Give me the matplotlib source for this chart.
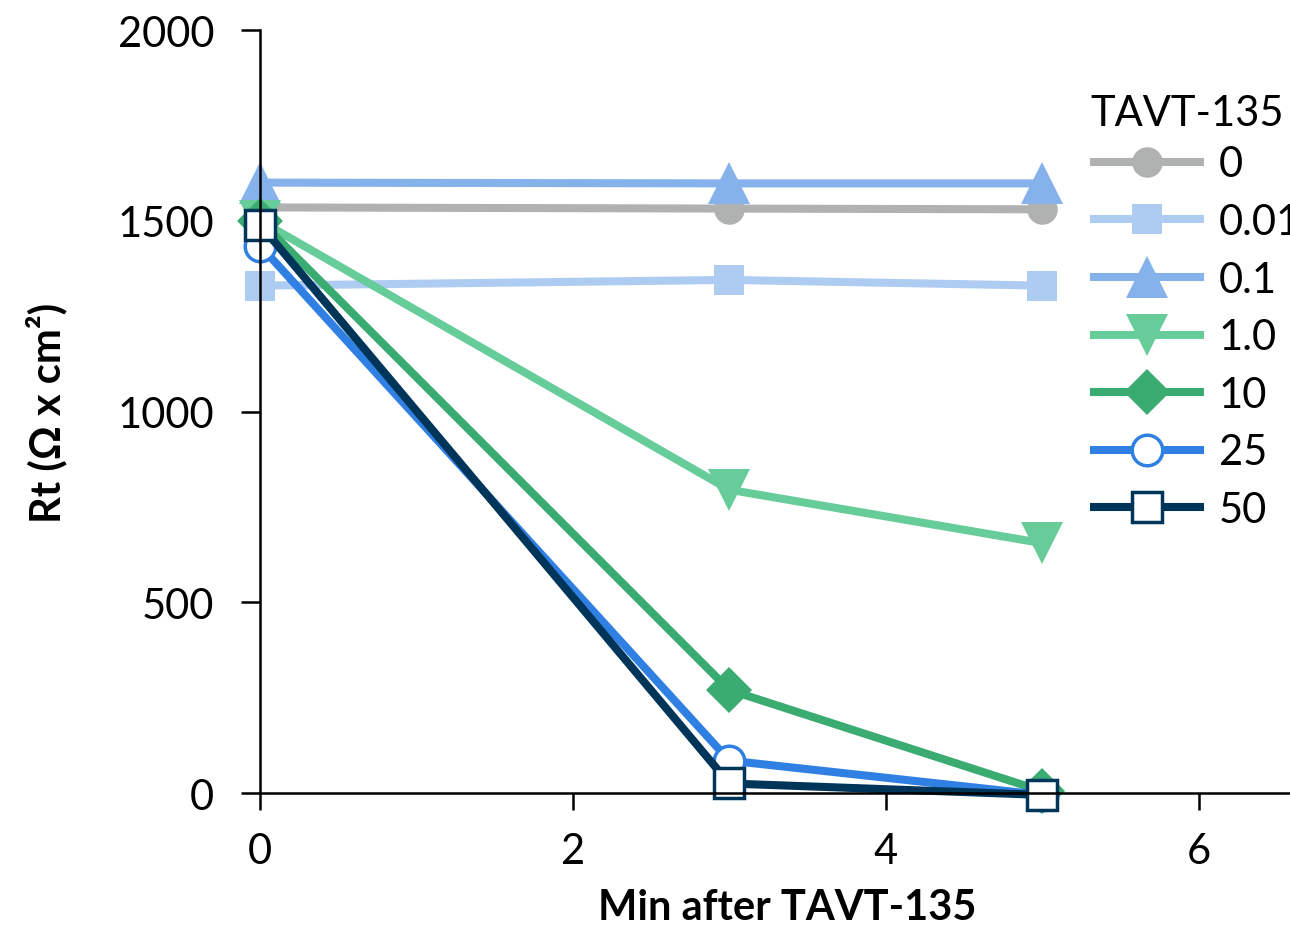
"""
Rt vs. minutes after TAVT-135 addition
"""
import matplotlib
matplotlib.use("Agg")
import matplotlib.pyplot as plt

plt.rcParams['font.family'] = ['Lato', 'DejaVu Sans']

# data
minutes = [0, 3, 5]
rt_0 = [1535, 1532, 1530]
rt_001 = [1330, 1345, 1330]
rt_01 = [1600, 1598, 1598]
rt_1 = [1500, 795, 655]
rt_10 = [1500, 270, 5]
rt_25 = [1435, 85, -5]
rt_50 = [1490, 25, -5]

labels = ['0', '0.01', '0.1', '1.0', '10', '25', '50']
x_ticks = [0, 2, 4, 6]
y_ticks = [0, 500, 1000, 1500, 2000]

# colour, marker, marker size, marker face
styles = [
    ('#B0B2B1', 'o', 22, None),
    ('#AECBF1', 's', 21, None),
    ('#86B2EC', '^', 30, None),
    ('#66CC99', 'v', 30, None),
    ('#3AAC72', 'D', 23, None),
    ('#2F80E2', 'o', 22, 'white'),
    ('#00355A', 's', 22, 'white'),
]
series = [rt_0, rt_001, rt_01, rt_1, rt_10, rt_25, rt_50]

fig = plt.figure(figsize=(12.9, 9.29), dpi=100)
ax = fig.add_axes([0.2016, 0.1453, 0.8488, 0.8213])

for vals, lab, (col, mk, ms, face) in zip(series, labels, styles):
    if face is None:
        ax.plot(minutes, vals, color=col, lw=5.8, marker=mk, ms=ms,
                mfc=col, mec=col, mew=0, label=lab, clip_on=False)
    else:
        ax.plot(minutes, vals, color=col, lw=5.8, marker=mk, ms=ms,
                mfc=face, mec=col, mew=2.5, label=lab, clip_on=False)

ax.set_xlim(0, 7)
ax.set_ylim(0, 2000)
ax.set_xticks(x_ticks)
ax.set_yticks(y_ticks)

for side in ['top', 'right']:
    ax.spines[side].set_visible(False)
for side in ['left', 'bottom']:
    ax.spines[side].set_linewidth(1.8)

ax.tick_params(axis='y', direction='out', length=14, width=1.8, pad=19, labelsize=30)
ax.tick_params(axis='x', direction='out', length=12, width=1.8, pad=16, labelsize=30)

ax.set_xlabel('Min after TAVT-135', fontsize=30, fontweight='bold')
ax.xaxis.set_label_coords(0.481, -0.125)
ax.set_ylabel('Rt (Ω x cm²)', fontsize=30, fontweight='bold', labelpad=36)

# legend title placed on its own so the gap to the first row matches
fig.text(0.845, 0.877, 'TAVT-135', fontsize=30, ha='left', va='center')
leg = fig.legend(loc='upper left', bbox_to_anchor=(0.848, 0.8424),
                 frameon=False, fontsize=30,
                 handlelength=2.55, handletextpad=0.45, labelspacing=0.47,
                 borderpad=0, borderaxespad=0)

fig.savefig('out.png', dpi=100)
